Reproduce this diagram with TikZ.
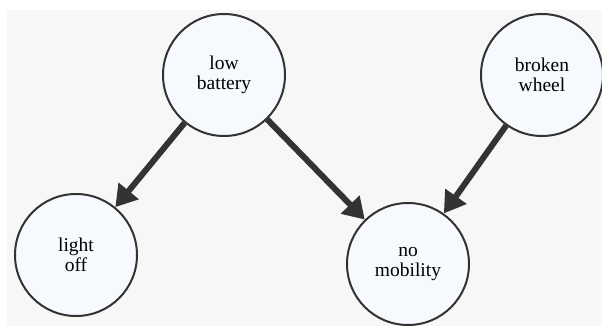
\documentclass[tikz,border=0pt]{standalone}
\usepackage{fontspec}
\setmainfont{Liberation Serif}
\usetikzlibrary{arrows.meta}
\definecolor{panel}{HTML}{F7F7F7}
\definecolor{nodefill}{HTML}{F6F9FE}
\definecolor{ink}{HTML}{333333}
\begin{document}
\begin{tikzpicture}[x=1pt,y=-1pt,
  state/.style={circle, draw=ink, line width=2pt, fill=nodefill,
    minimum size=122pt, inner sep=0pt, align=center,
    font=\fontsize{19.5}{19.5}\selectfont},
  cause/.style={draw=ink, line width=6pt,
    -{Triangle[length=21pt,width=25pt]}}]
  % canvas and grey panel
  \useasboundingbox (0,0) rectangle (602,326);
  \fill[white] (0,0) rectangle (602,326);
  \fill[panel] (7,10) rectangle (602,326);
  % states
  \node[state] (lb) at (224,75) {low\\battery};
  \node[state] (bw) at (542,75) {broken\\wheel};
  \node[state] (lo) at (76,255) {light\\off};
  \node[state] (nm) at (408,264) {no\\mobility};
  % causal links
  \draw[cause] (lb) -- (lo);
  \draw[cause] (lb) -- (nm);
  \draw[cause] (bw) -- (nm);
\end{tikzpicture}
\end{document}
